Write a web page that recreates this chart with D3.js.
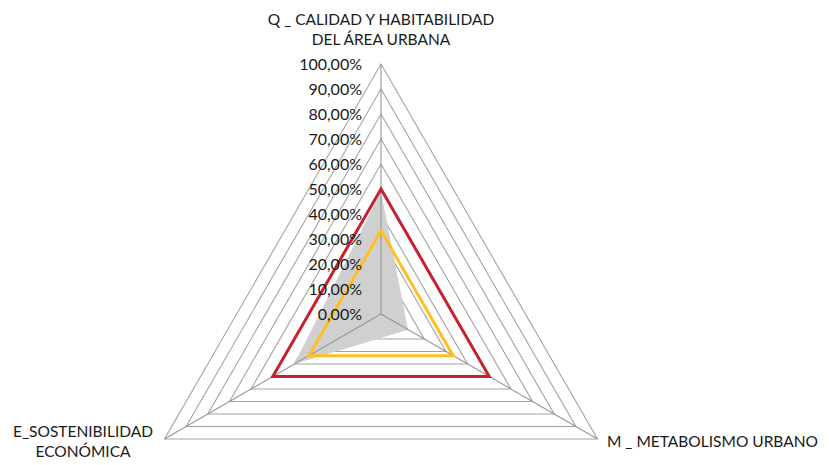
<!DOCTYPE html>
<html>
<head>
<meta charset="utf-8">
<script src="https://cdn.jsdelivr.net/npm/d3@7"></script>
<style>
  html, body { margin: 0; padding: 0; background: #fff; }
  svg { display: block; }
  text { font-family: Lato, "Open Sans", sans-serif; fill: #1a1a1a; }
</style>
</head>
<body>
<svg id="chart" width="829" height="465"></svg>
<script>
// Axis names (one per radar spoke, clockwise from the top)
const axisLabels = [
  ["Q _ CALIDAD Y HABITABILIDAD", "DEL ÁREA URBANA"],
  ["M _ METABOLISMO URBANO"],
  ["E_SOSTENIBILIDAD", "ECONÓMICA"]
];
// Series values per axis (Q, M, E)
const areaValues   = [0.49, 0.125, 0.40];
const redValues    = [0.50, 0.50, 0.50];
const yellowValues = [0.3333, 0.3333, 0.3333];
// Radial tick values and their labels
const tickValues = [0, 0.1, 0.2, 0.3, 0.4, 0.5, 0.6, 0.7, 0.8, 0.9, 1.0];
const tickLabels = ["0,00%", "10,00%", "20,00%", "30,00%", "40,00%", "50,00%",
                    "60,00%", "70,00%", "80,00%", "90,00%", "100,00%"];

const svg = d3.select("#chart");
const cx = 381, cy = 314, R = 250;

const r = d3.scaleLinear().domain([0, 1]).range([0, R]);
const angle = d3.scaleOrdinal()
  .domain(d3.range(axisLabels.length))
  .range([-90, 30, 150].map(d => d * Math.PI / 180));

const pt = (i, v) => [cx + r(v) * Math.cos(angle(i)), cy + r(v) * Math.sin(angle(i))];
const closedLine = d3.line().curve(d3.curveLinearClosed);
const poly = vals => closedLine(vals.map((v, i) => pt(i, v)));

// Grid triangles
svg.append("g").selectAll("path")
  .data(tickValues.filter(t => t > 0))
  .join("path")
  .attr("d", t => poly(axisLabels.map(() => t)))
  .attr("fill", "none")
  .attr("stroke", "#a3a3a3")
  .attr("stroke-width", 1.1);

// Filled area series
svg.append("path")
  .attr("d", poly(areaValues))
  .attr("fill", "#d0d0d0")
  .attr("stroke", "none");

// Spokes
svg.append("g").selectAll("line")
  .data(d3.range(axisLabels.length))
  .join("line")
  .attr("x1", cx).attr("y1", cy)
  .attr("x2", i => pt(i, 1)[0]).attr("y2", i => pt(i, 1)[1])
  .attr("stroke", "#969696")
  .attr("stroke-width", 1.1);

// Line series
svg.append("path")
  .attr("d", poly(yellowValues))
  .attr("fill", "none")
  .attr("stroke", "#ffbf1f")
  .attr("stroke-width", 3)
  .attr("stroke-linejoin", "miter");

svg.append("path")
  .attr("d", poly(redValues))
  .attr("fill", "none")
  .attr("stroke", "#c8202c")
  .attr("stroke-width", 3)
  .attr("stroke-linejoin", "miter");

// Radial tick labels
svg.append("g").selectAll("text")
  .data(tickValues)
  .join("text")
  .attr("x", cx - 19)
  .attr("y", t => cy - r(t))
  .attr("dy", "0.36em")
  .attr("text-anchor", "end")
  .style("font-size", "16px")
  .text((t, i) => tickLabels[i]);

// Axis titles
const titlePos = [
  { x: 381, y: 25, anchor: "middle" },
  { x: 607, y: 447, anchor: "start" },
  { x: 83, y: 437, anchor: "middle" }
];
axisLabels.forEach((lines, i) => {
  const t = svg.append("text")
    .attr("x", titlePos[i].x)
    .attr("y", titlePos[i].y)
    .attr("text-anchor", titlePos[i].anchor)
    .style("font-size", "15.5px");
  lines.forEach((s, j) => {
    t.append("tspan")
      .attr("x", titlePos[i].x)
      .attr("dy", j === 0 ? 0 : 20)
      .text(s);
  });
});
</script>
</body>
</html>
